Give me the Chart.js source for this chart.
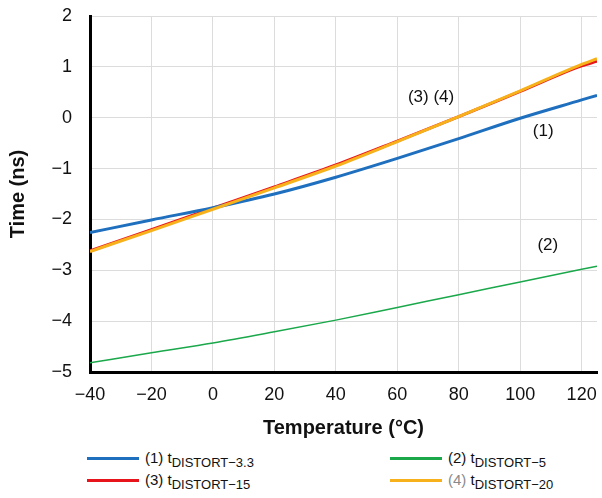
<!DOCTYPE html>
<html lang="en">
<head>
  <meta charset="UTF-8">
  <title>tDISTORT vs Temperature</title>
  <style>
    body {
      margin: 0;
      background: #fff;
      font-family: 'Liberation Sans', Arial, sans-serif;
      color: #111;
    }
    .wrap {
      position: relative;
      width: 602px;
      height: 498px;
    }
    canvas {
      position: absolute;
      left: 0;
      top: 0;
    }
    .legend-item {
      position: absolute;
      font-size: 15px;
      line-height: 16px;
      white-space: nowrap;
    }
    .legend-item .swatch {
      display: inline-block;
      width: 52px;
      height: 3px;
      vertical-align: middle;
      margin-right: 6px;
      position: relative;
      top: -1px;
    }
    .legend-item sub {
      font-size: 13px;
      vertical-align: -4px;
    }
  </style>
  <script src="https://cdn.jsdelivr.net/npm/chart.js"></script>
</head>
<body>
  <div class="wrap">
    <canvas id="chart" width="602" height="445"></canvas>
    <div class="legend-item" style="left:87px; top:450px;"><span class="swatch" style="background:#1f6fbf"></span>(1) t<sub>DISTORT−3.3</sub></div>
    <div class="legend-item" style="left:390px; top:450px;"><span class="swatch" style="background:#1aa84b"></span>(2) t<sub>DISTORT−5</sub></div>
    <div class="legend-item" style="left:87px; top:472px;"><span class="swatch" style="background:#e8141c"></span>(3) t<sub>DISTORT−15</sub></div>
    <div class="legend-item" style="left:390px; top:472px;"><span class="swatch" style="background:#f7b21b"></span><span style="color:#8a8a8a">(4)</span> t<sub>DISTORT−20</sub></div>
  </div>

  <script>
    // temperatures (°C)
    const temps = [-40, -20, 0, 20, 40, 60, 80, 100, 120, 125];
    // delay values (ns)
    const tDistort33 = [-2.26, -2.01, -1.77, -1.50, -1.17, -0.80, -0.41, -0.01, 0.35, 0.44];
    const tDistort5  = [-4.82, -4.62, -4.43, -4.21, -3.98, -3.73, -3.48, -3.23, -2.98, -2.92];
    const tDistort15 = [-2.62, -2.20, -1.78, -1.36, -0.93, -0.46, 0.02, 0.52, 1.02, 1.11];
    const tDistort20 = [-2.63, -2.22, -1.80, -1.38, -0.95, -0.47, 0.02, 0.53, 1.05, 1.16];
    const yTicks = [-5, -4, -3, -2, -1, 0, 1, 2];
    const xTicks = [-40, -20, 0, 20, 40, 60, 80, 100, 120];

    // curve tags in the plot
    const curveTags = [
      { text: '(3) (4)', x: 71, y: 0.41 },
      { text: '(1)', x: 107.5, y: -0.27 },
      { text: '(2)', x: 109, y: -2.51 }
    ];

    const toPoints = (vals) => temps.map((t, i) => ({ x: t, y: vals[i] }));
    const minus = (v) => String(v).replace('-', '\u2212');

    const tagPlugin = {
      id: 'curveTags',
      afterDatasetsDraw(chart) {
        const ctx = chart.ctx;
        const xs = chart.scales.x, ys = chart.scales.y;
        ctx.save();
        ctx.font = '17px "Liberation Sans", Arial, sans-serif';
        ctx.fillStyle = '#111';
        ctx.textAlign = 'center';
        ctx.textBaseline = 'middle';
        curveTags.forEach(tag => {
          ctx.fillText(tag.text, xs.getPixelForValue(tag.x), ys.getPixelForValue(tag.y));
        });
        ctx.restore();
      }
    };

    const ctx = document.getElementById('chart').getContext('2d');
    new Chart(ctx, {
      type: 'line',
      data: {
        datasets: [
          { label: '(1)', data: toPoints(tDistort33), borderColor: '#1f6fbf', borderWidth: 3, order: 1 },
          { label: '(2)', data: toPoints(tDistort5), borderColor: '#1aa84b', borderWidth: 1.5, order: 3 },
          { label: '(3)', data: toPoints(tDistort15), borderColor: '#e8141c', borderWidth: 3, order: 2 },
          { label: '(4)', data: toPoints(tDistort20), borderColor: '#f7b21b', borderWidth: 3, order: 0 }
        ]
      },
      options: {
        responsive: false,
        animation: false,
        devicePixelRatio: 1,
        elements: {
          point: { radius: 0 },
          line: { tension: 0.35, cubicInterpolationMode: 'monotone' }
        },
        layout: { padding: { top: 16, right: 5, left: 0, bottom: 0 } },
        plugins: {
          legend: { display: false },
          tooltip: { enabled: false }
        },
        scales: {
          x: {
            type: 'linear',
            min: -40,
            max: 125,
            afterBuildTicks: (axis) => { axis.ticks = xTicks.map(v => ({ value: v })); },
            afterFit: (axis) => {
              axis.height = 73;
              axis.paddingLeft = 0;
              axis.paddingRight = 0;
            },
            grid: { color: '#dcdcdc', lineWidth: 1, drawTicks: false },
            border: { color: '#000', width: 3 },
            ticks: {
              padding: 12,
              color: '#111',
              font: { family: '"Liberation Sans", Arial, sans-serif', size: 18 },
              callback: (v) => minus(v)
            },
            title: {
              display: true,
              text: 'Temperature (°C)',
              color: '#111',
              font: { family: '"Liberation Sans", Arial, sans-serif', size: 20, weight: 'bold' },
              padding: { top: 5, bottom: 5 }
            }
          },
          y: {
            type: 'linear',
            min: -5,
            max: 2,
            afterBuildTicks: (axis) => { axis.ticks = yTicks.map(v => ({ value: v })); },
            afterFit: (axis) => {
              axis.width = 90;
              axis.paddingTop = 0;
              axis.paddingBottom = 0;
            },
            grid: { color: '#dcdcdc', lineWidth: 1, drawTicks: false },
            border: { color: '#000', width: 3 },
            ticks: {
              padding: 18,
              color: '#111',
              font: { family: '"Liberation Sans", Arial, sans-serif', size: 18 },
              callback: (v) => minus(v)
            },
            title: {
              display: true,
              text: 'Time (ns)',
              color: '#111',
              font: { family: '"Liberation Sans", Arial, sans-serif', size: 20, weight: 'bold' },
              padding: { top: 6, bottom: 0 }
            }
          }
        }
      },
      plugins: [tagPlugin]
    });
  </script>
</body>
</html>
